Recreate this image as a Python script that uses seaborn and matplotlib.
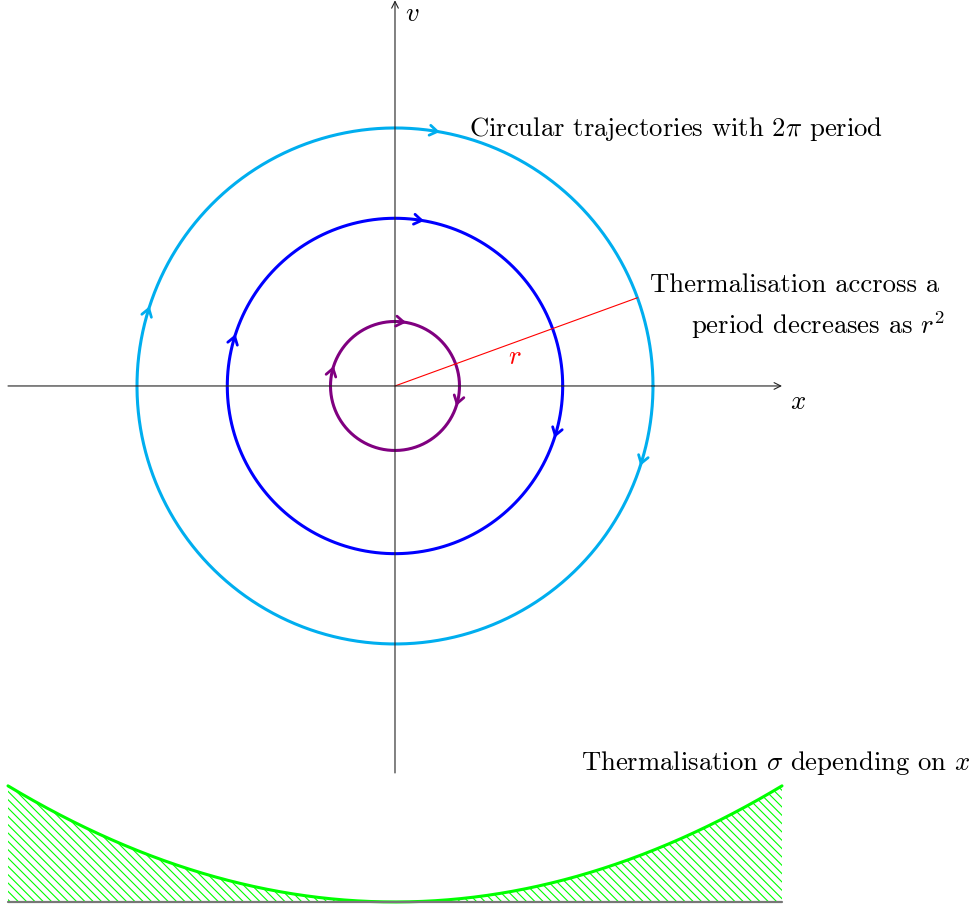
import numpy as np
import pandas as pd
import seaborn as sns
import matplotlib.pyplot as plt

# trajectoires circulaires (rayons en unites du dessin)
radii = [4.0, 2.6, 1.0]
couleurs = ["#00aeef", "#0000ff", "#800080"]
fleche_angles = [80, 162, -18]  # position des fleches sur chaque cercle (degres)

# rayon marque en rouge
r_angle = 20
r_len = 4.0

# thermalisation sigma(x) = base + a*x^2
sigma_x = [-6.0, 6.0]
sigma_base = -8.0
sigma_a = 0.05

sns.set_theme(style="white")
plt.rcParams["font.family"] = ["cmr10", "DejaVu Serif"]
plt.rcParams["mathtext.fontset"] = "cm"
plt.rcParams["axes.unicode_minus"] = False
plt.rcParams["hatch.linewidth"] = 0.8
plt.rcParams["text.color"] = "black"

fs = 19.2

fig = plt.figure(figsize=(9.8, 9.07), dpi=100)
ax = fig.add_axes([0, 0, 1, 1])
ax.set_xlim(-6.124, 9.07)
ax.set_ylim(-8.078, 5.984)
ax.set_aspect("equal")
ax.axis("off")

# axes x et v
pointe = dict(arrowstyle="->,head_length=0.4,head_width=0.2", color="#222222", lw=0.8,
              shrinkA=0, shrinkB=0)
ax.annotate("", xy=(6.0, 0), xytext=(-6.0, 0), arrowprops=pointe, annotation_clip=False)
ax.annotate("", xy=(0, 5.98), xytext=(0, -6.0), arrowprops=pointe, annotation_clip=False)
ax.text(6.12, -0.25, "$x$", fontsize=fs, ha="left", va="center")
ax.text(0.15, 5.77, "$v$", fontsize=fs, ha="left", va="center")

# cercles
t = np.linspace(0, 2 * np.pi, 400)
rows = []
for r in radii:
    for tt in t:
        rows.append({"x": r * np.cos(tt), "y": r * np.sin(tt), "r": str(r)})
df = pd.DataFrame(rows)
sns.lineplot(data=df, x="x", y="y", hue="r", palette=dict(zip([str(r) for r in radii], couleurs)),
             sort=False, estimator=None, linewidth=2.2, legend=False, ax=ax)

# fleches (sens horaire)
for r, c in zip(radii, couleurs):
    for a in fleche_angles:
        th = np.radians(a)
        d = 0.08 / r
        tip = (r * np.cos(th), r * np.sin(th))
        tail = (r * np.cos(th + d), r * np.sin(th + d))
        ax.annotate("", xy=tip, xytext=tail,
                    arrowprops=dict(arrowstyle="->,head_length=0.45,head_width=0.3", color=c, lw=2.0,
                                    shrinkA=0, shrinkB=0))

# rayon r
th = np.radians(r_angle)
ax.plot([0, r_len * np.cos(th)], [0, r_len * np.sin(th)], color="#ff0000", lw=0.8)
ax.text(1.86, 0.45, "$r$", color="#ff0000", fontsize=fs, ha="center", va="center")

# textes
ax.text(1.15, 3.98, "Circular trajectories with $2\\pi$ period", fontsize=fs, ha="left", va="center")
ax.text(3.95, 1.56, "Thermalisation accross a", fontsize=fs, ha="left", va="center")
ax.text(8.52, 0.95, "period decreases as $r^2$", fontsize=fs, ha="right", va="center")
ax.text(5.9, -5.85, "Thermalisation $\\sigma$ depending on $x$", fontsize=fs, ha="center", va="center")

# sigma(x)
xs = np.linspace(sigma_x[0], sigma_x[1], 300)
ys = sigma_base + sigma_a * xs ** 2
ax.fill_between(xs, sigma_base, ys, facecolor="none", edgecolor="#00ff00", linewidth=0,
                hatch="\\\\\\\\")
sns.lineplot(x=xs, y=ys, color="#00ff00", linewidth=2.2, sort=False, estimator=None, ax=ax)
ax.plot(sigma_x, [sigma_base, sigma_base], color="#777777", lw=1.6)

fig.savefig("out.png", dpi=100)
